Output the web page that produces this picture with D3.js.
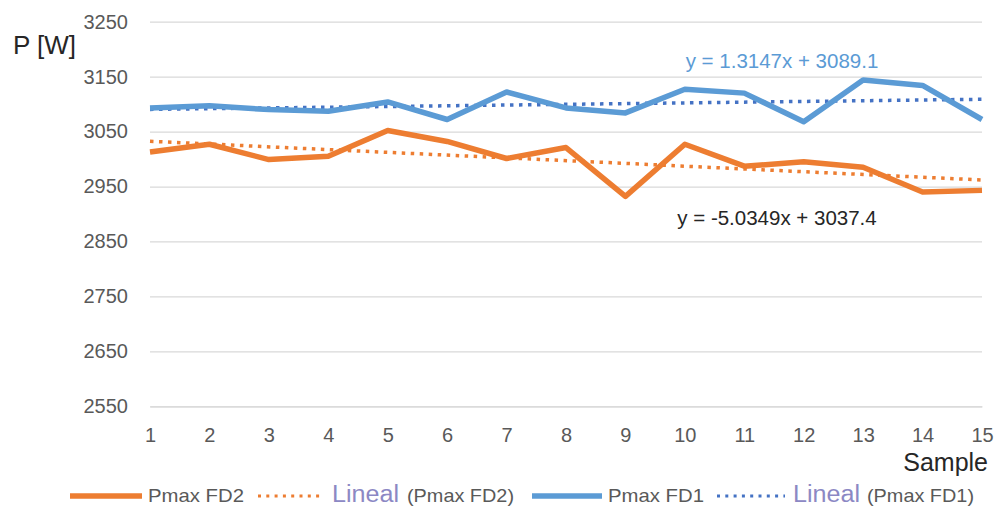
<!DOCTYPE html>
<html>
<head>
<meta charset="utf-8">
<script src="https://cdn.jsdelivr.net/npm/d3@7/dist/d3.min.js"></script>
<style>
    body { margin: 0; background: #fff; }
    svg { font-family: "Liberation Sans", Arial, sans-serif; display: block; }
</style>
</head>
<body>
<div id="chart"></div>
<script>
// Data
const samples = [1, 2, 3, 4, 5, 6, 7, 8, 9, 10, 11, 12, 13, 14, 15];
const pmaxFD2 = [3013, 3027, 2999, 3005, 3052, 3032, 3001, 3021, 2932, 3027, 2987, 2995, 2985, 2940, 2943];
const pmaxFD1 = [3093, 3097, 3090, 3087, 3104, 3072, 3122, 3093, 3084, 3127, 3120, 3068, 3144, 3134, 3072];
const trendFD2 = [-5.0349, 3037.4]; // slope, intercept
const trendFD1 = [1.3147, 3089.1];
const yTicks = [2550, 2650, 2750, 2850, 2950, 3050, 3150, 3250];

const width = 994, height = 506;
const margin = [21.7, 12, 99.7, 150]; // top, right, bottom, left
const plotW = width - margin[1] - margin[3];
const plotH = height - margin[0] - margin[2];

const orange = '#ED7D31';
const blue = '#5B9BD5';
const blueTrend = '#4472C4';
const grey = '#595959';

const svg = d3.select('#chart').append('svg')
    .attr('width', width)
    .attr('height', height);

const chart = svg.append('g')
    .attr('transform', `translate(${margin[3]}, ${margin[0]})`);

// Scales
const scaleX = d3.scaleLinear().domain([1, 15]).range([0, plotW]);
const scaleY = d3.scaleLinear().domain([2550, 3250]).range([plotH, 0]);

// Gridlines
chart.append('g')
    .call(d3.axisLeft(scaleY).tickValues(yTicks).tickSize(-plotW).tickFormat(''))
    .call(g => g.select('.domain').remove())
    .call(g => g.selectAll('line').attr('stroke', '#D9D9D9').attr('stroke-width', 1.3));

// Y tick labels
chart.append('g')
    .call(d3.axisLeft(scaleY).tickValues(yTicks).tickSize(0).tickPadding(22).tickFormat(d3.format('d')))
    .call(g => g.select('.domain').remove())
    .call(g => g.selectAll('text').attr('fill', grey).style('font-size', '20px').style('font-family', null));

// X axis
chart.append('g')
    .attr('transform', `translate(0, ${plotH})`)
    .call(d3.axisBottom(scaleX).tickValues(samples).tickSize(0).tickSizeOuter(0).tickPadding(22))
    .call(g => g.select('.domain').attr('stroke', '#D9D9D9').attr('stroke-width', 1.3))
    .call(g => g.selectAll('text').attr('fill', grey).style('font-size', '20px').style('font-family', null));

// Trend lines (from the fitted equations)
const trendLine = (coef) => [1, 15].map(x => [x, coef[0] * x + coef[1]]);
const lineGen = d3.line().x(d => scaleX(d[0])).y(d => scaleY(d[1]));

chart.append('path')
    .datum(trendLine(trendFD2))
    .attr('d', lineGen)
    .attr('fill', 'none')
    .attr('stroke', orange)
    .attr('stroke-width', 3.5)
    .attr('stroke-dasharray', '3.5 5.5');

chart.append('path')
    .datum(trendLine(trendFD1))
    .attr('d', lineGen)
    .attr('fill', 'none')
    .attr('stroke', blueTrend)
    .attr('stroke-width', 3.5)
    .attr('stroke-dasharray', '3.5 5.5');

// Data lines
chart.append('path')
    .datum(samples.map((s, i) => [s, pmaxFD2[i]]))
    .attr('d', lineGen)
    .attr('fill', 'none')
    .attr('stroke', orange)
    .attr('stroke-width', 5.5)
    .attr('stroke-linejoin', 'round');

chart.append('path')
    .datum(samples.map((s, i) => [s, pmaxFD1[i]]))
    .attr('d', lineGen)
    .attr('fill', 'none')
    .attr('stroke', blue)
    .attr('stroke-width', 5.5)
    .attr('stroke-linejoin', 'round');

// Trend equations
const fmtEq = (c) => `y = ${c[0]}x + ${c[1].toFixed(1)}`;
svg.append('text')
    .attr('x', 782).attr('y', 68)
    .attr('text-anchor', 'middle')
    .attr('fill', blue)
    .style('font-size', '20.5px')
    .text(fmtEq(trendFD1));

svg.append('text')
    .attr('x', 777).attr('y', 225)
    .attr('text-anchor', 'middle')
    .attr('fill', '#262626')
    .style('font-size', '20.5px')
    .text(fmtEq(trendFD2));

// Axis titles
svg.append('text')
    .attr('x', 13).attr('y', 53.5)
    .attr('fill', '#262626')
    .style('font-size', '26px')
    .text('P [W]');

svg.append('text')
    .attr('x', 988).attr('y', 471)
    .attr('text-anchor', 'end')
    .attr('fill', '#262626')
    .style('font-size', '25px')
    .text('Sample');

// Legend: swatch start/end, label start, optional "Lineal" start
const legendItems = [
    { name: 'Pmax FD2', color: orange, dash: false, sx: [70, 142], tx: 148 },
    { name: '(Pmax FD2)', color: orange, dash: true, sx: [258, 323], lx: 332, tx: 407 },
    { name: 'Pmax FD1', color: blue, dash: false, sx: [532, 602], tx: 608 },
    { name: '(Pmax FD1)', color: blueTrend, dash: true, sx: [717, 785], lx: 793, tx: 867 }
];

const legend = svg.append('g').attr('transform', 'translate(0, 496)');
legendItems.forEach(item => {
    legend.append('line')
        .attr('x1', item.sx[0]).attr('x2', item.sx[1])
        .attr('y1', 0).attr('y2', 0)
        .attr('stroke', item.color)
        .attr('stroke-width', item.dash ? 3 : 5.5)
        .attr('stroke-dasharray', item.dash ? '3 5.3' : null);
    if (item.dash) {
        legend.append('text')
            .attr('x', item.lx).attr('y', 5.5)
            .attr('fill', '#8C88C4')
            .style('font-size', '23px')
            .attr('textLength', 67)
            .attr('lengthAdjust', 'spacingAndGlyphs')
            .text('Lineal');
    }
    legend.append('text')
        .attr('x', item.tx).attr('y', 5.5)
        .attr('fill', grey)
        .style('font-size', '19px')
        .attr('textLength', item.dash ? 107 : 96)
        .attr('lengthAdjust', 'spacingAndGlyphs')
        .text(item.name);
});
</script>
</body>
</html>
